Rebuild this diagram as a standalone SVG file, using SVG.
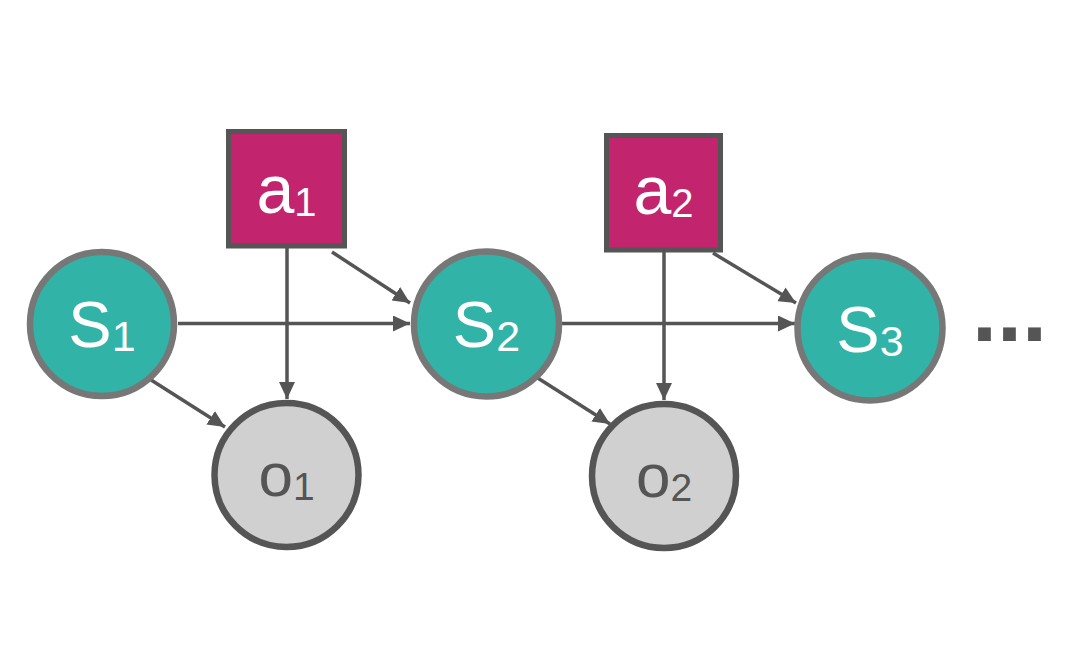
<svg xmlns="http://www.w3.org/2000/svg" width="1075" height="672" viewBox="0 0 1075 672">
<style>
.s{fill:#32B3A7;stroke:#777;stroke-width:6.5}
.o{fill:#D0D0D0;stroke:#555;stroke-width:6.5}
.a{fill:#C2246E;stroke:#555;stroke-width:5}
.lw{font-family:"Liberation Sans",Arial,sans-serif;fill:#fff}
.lg{font-family:"Liberation Sans",Arial,sans-serif;fill:#555}
.e{fill:none;stroke:#555;stroke-width:3.5;marker-end:url(#ah)}
</style>
<defs>
<marker id="ah" markerUnits="userSpaceOnUse" markerWidth="17" markerHeight="16" refX="17" refY="8" orient="auto" viewBox="0 0 17 16">
<path d="M0,0 L17,8 L0,16 z" fill="#555"/>
</marker>
</defs>
<rect width="1075" height="672" fill="#fff"/>
<g id="connectors">
<line class="e" x1="178" y1="323.5" x2="410" y2="323.5"/>
<line class="e" x1="287" y1="248" x2="287" y2="399"/>
<line class="e" x1="332" y1="252" x2="410" y2="303"/>
<line class="e" x1="148" y1="378" x2="225" y2="427"/>
<line class="e" x1="562" y1="323.5" x2="795" y2="323.5"/>
<line class="e" x1="664" y1="252" x2="664" y2="400"/>
<line class="e" x1="713" y1="253" x2="796" y2="303"/>
<line class="e" x1="533" y1="375" x2="610" y2="424"/>
</g>
<g id="s1">
<circle class="s" cx="102" cy="324" r="72"/>
<text class="lw" x="102" y="347" text-anchor="middle" font-size="65">S<tspan font-size="43" dy="4">1</tspan></text>
</g>
<g id="s2">
<circle class="s" cx="486.5" cy="324" r="72.5"/>
<text class="lw" x="486.5" y="347" text-anchor="middle" font-size="65">S<tspan font-size="43" dy="4">2</tspan></text>
</g>
<g id="s3">
<circle class="s" cx="870" cy="328" r="72.5"/>
<text class="lw" x="870" y="351.5" text-anchor="middle" font-size="65">S<tspan font-size="43" dy="4">3</tspan></text>
</g>
<g id="a1">
<rect class="a" x="228.5" y="131.5" width="116" height="114.5"/>
<text class="lw" x="286.5" y="213" text-anchor="middle" font-size="68">a<tspan font-size="40" dy="3">1</tspan></text>
</g>
<g id="a2">
<rect class="a" x="606.5" y="135.5" width="114" height="114.5"/>
<text class="lw" x="663.5" y="214" text-anchor="middle" font-size="68">a<tspan font-size="40" dy="3">2</tspan></text>
</g>
<g id="o1">
<circle class="o" cx="286.5" cy="475" r="72"/>
<text class="lg" x="286.5" y="496" text-anchor="middle" font-size="62">o<tspan font-size="39" dy="4">1</tspan></text>
</g>
<g id="o2">
<circle class="o" cx="664" cy="476" r="72"/>
<text class="lg" x="664" y="497" text-anchor="middle" font-size="62">o<tspan font-size="39" dy="4">2</tspan></text>
</g>
<g id="ellipsis">
<text x="972" y="341" font-family="Liberation Sans,Arial,sans-serif" font-weight="bold" font-size="90" fill="#555">...</text>
</g>
</svg>
